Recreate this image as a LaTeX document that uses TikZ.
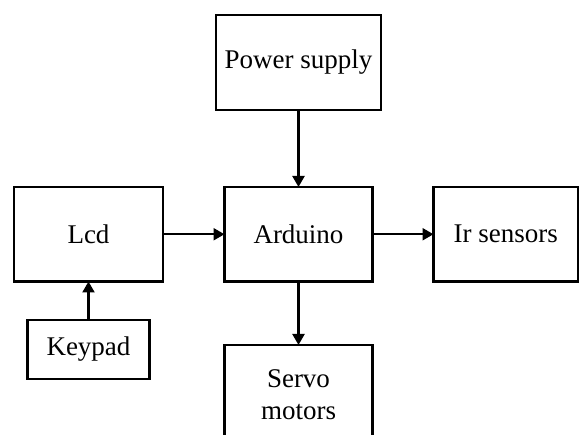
\documentclass[tikz,border=0pt]{standalone}
\usepackage{fontspec}
\setmainfont{Liberation Serif}
\usetikzlibrary{arrows.meta}
\begin{document}
\begin{tikzpicture}[x=1pt,y=-1pt,
  box/.style={draw=black, line width=2.2pt, fill=white, inner sep=0pt, outer sep=0pt,
    font=\fontsize{27}{32}\selectfont, align=center},
  conn/.style={line width=2.2pt, -{Triangle[length=11pt,width=12pt]}}]
\useasboundingbox (0,0) rectangle (579,435);
\clip (0,0) rectangle (579,435);
\node[box, minimum width=165pt, minimum height=95pt] (ps) at (298.5,62.5) {Power supply};
\node[box, minimum width=149pt, minimum height=94.5pt] (lcd) at (88.5,234.25) {Lcd};
\node[box, minimum width=148pt, minimum height=94.5pt] (ard) at (298.5,234.25) {Arduino};
\node[box, minimum width=144.5pt, minimum height=94.5pt] (ir) at (505.75,234.25) {Ir sensors};
\node[box, minimum width=122pt, minimum height=59pt] (kp) at (88.5,349.5) {Keypad};
\node[box, minimum width=148pt, minimum height=100pt] (sv) at (298.5,395) {Servo\\motors};
\draw[conn] (ps.south) -- (ard.north);
\draw[conn] (lcd.east) -- (ard.west);
\draw[conn] (ard.east) -- (ir.west);
\draw[conn] (ard.south) -- (sv.north);
\draw[conn] (kp.north) -- (lcd.south);
\end{tikzpicture}
\end{document}
